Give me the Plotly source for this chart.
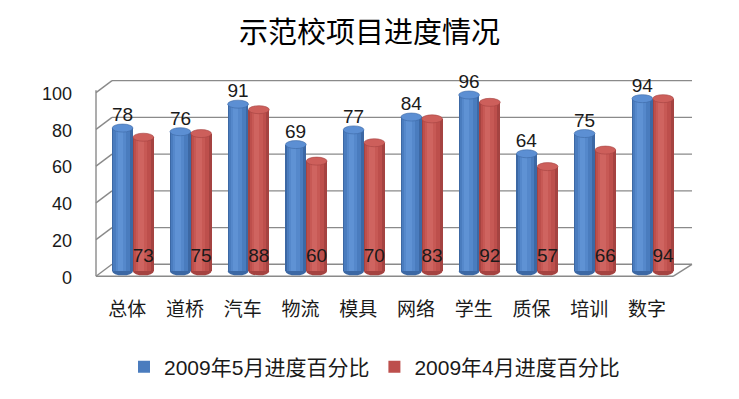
import plotly.graph_objects as go

title_text = "示范校项目进度情况"
categories = ["总体", "道桥", "汽车", "物流", "模具", "网络", "学生", "质保", "培训", "数字"]
may_values = [78, 76, 91, 69, 77, 84, 96, 64, 75, 94]
april_values = [73, 75, 88, 60, 70, 83, 92, 57, 66, 94]
series_names = ["2009年5月进度百分比", "2009年4月进度百分比"]
y_ticks = [0, 20, 40, 60, 80, 100]

FONT = "Liberation Sans, Noto Sans CJK SC, sans-serif"
BW = 0.36
Y_RANGE = [-13.44, 115.05]
PLOT_H = 239
PX_PER_UNIT = PLOT_H / (Y_RANGE[1] - Y_RANGE[0])

idx = list(range(len(categories)))
x_may = [i - BW / 2 for i in idx]
x_apr = [i + BW / 2 for i in idx]

blue_layers = [("#3c68a4", 1.0, 0.0), ("#4a7cbe", 0.80, -0.04), ("#5588cb", 0.52, -0.08), ("#5f92d4", 0.26, -0.11)]
red_layers = [("#a54341", 1.0, 0.0), ("#bd4f4c", 0.80, -0.04), ("#c75955", 0.52, -0.08), ("#cf6460", 0.26, -0.11)]
blue_top = "#5c8fd3"
red_top = "#cd5f5b"

fig = go.Figure()
shapes = []

GRID = "#8a8a8a"
BACK_X0 = 16 / 596
FRONT_X1 = 577 / 596
BACK_DY = 7
FRONT_DY = -5

# back wall gridlines + left wall slants
for v in y_ticks:
    shapes.append(dict(type="line", xref="paper", yref="y", ysizemode="pixel", yanchor=v,
                       x0=BACK_X0, x1=1, y0=BACK_DY, y1=BACK_DY,
                       line=dict(color=GRID, width=1.4), layer="below"))
    shapes.append(dict(type="line", xref="paper", yref="y", ysizemode="pixel", yanchor=v,
                       x0=0, x1=BACK_X0, y0=FRONT_DY, y1=BACK_DY,
                       line=dict(color=GRID, width=1.4), layer="below"))
# front left vertical edge
shapes.append(dict(type="line", xref="paper", yref="y", ysizemode="pixel", yanchor=0,
                   x0=0, x1=0, y0=FRONT_DY, y1=FRONT_DY + 100 * PX_PER_UNIT,
                   line=dict(color=GRID, width=1.4), layer="below"))
# floor front edge and right slant
shapes.append(dict(type="line", xref="paper", yref="y", ysizemode="pixel", yanchor=0,
                   x0=0, x1=FRONT_X1, y0=FRONT_DY, y1=FRONT_DY,
                   line=dict(color=GRID, width=1.4), layer="below"))
shapes.append(dict(type="line", xref="paper", yref="y", ysizemode="pixel", yanchor=0,
                   x0=FRONT_X1, x1=1, y0=FRONT_DY, y1=BACK_DY,
                   line=dict(color=GRID, width=1.4), layer="below"))


def add_cylinders(xs, vals, layers, top_col, name):
    for k, (col, wf, off) in enumerate(layers):
        fig.add_trace(go.Bar(
            x=[x + off * BW for x in xs], y=vals, width=BW * wf,
            marker=dict(color=col, line=dict(width=0)),
            name=name, legendgroup=name, showlegend=(k == 1), hoverinfo="skip",
        ))
    for x, v in zip(xs, vals):
        shapes.append(dict(type="circle", xref="x", yref="y", ysizemode="pixel", yanchor=0,
                           x0=x - BW / 2, x1=x + BW / 2, y0=-4, y1=4,
                           fillcolor=layers[0][0], line=dict(width=0), layer="below"))
        shapes.append(dict(type="circle", xref="x", yref="y", ysizemode="pixel", yanchor=v,
                           x0=x - BW / 2, x1=x + BW / 2, y0=-4, y1=4,
                           fillcolor=top_col, line=dict(color=layers[0][0], width=0.6), layer="above"))


add_cylinders(x_may, may_values, blue_layers, blue_top, series_names[0])
add_cylinders(x_apr, april_values, red_layers, red_top, series_names[1])

# value labels: May above the bars, April near the bar base
fig.add_trace(go.Bar(
    x=x_may, y=may_values, width=BW,
    marker=dict(color="rgba(0,0,0,0)", line=dict(width=0)),
    text=[str(v) for v in may_values], textposition="outside", textangle=0,
    constraintext="none", textfont=dict(family=FONT, size=19, color="#1a1a1a"),
    cliponaxis=False, showlegend=False, hoverinfo="skip",
))
fig.add_trace(go.Scatter(
    x=x_apr, y=[0] * len(april_values), mode="markers+text",
    marker=dict(size=6, opacity=0),
    text=[str(v) for v in april_values], textposition="top center",
    textfont=dict(family=FONT, size=19, color="#1a1a1a"),
    cliponaxis=False, showlegend=False, hoverinfo="skip",
))

fig.update_layout(
    width=739, height=399,
    margin=dict(l=96, r=47, t=60, b=100),
    paper_bgcolor="white", plot_bgcolor="rgba(0,0,0,0)",
    barmode="overlay", bargap=0,
    font=dict(family=FONT, size=19, color="#1a1a1a"),
    title=dict(text=title_text, x=0.5, xanchor="center", y=1 - 33 / 399, yanchor="middle",
               font=dict(family="Noto Sans CJK SC, sans-serif", size=29, color="#000")),
    xaxis=dict(range=[-0.64, 9.68], tickvals=[i - 0.1 for i in idx], ticktext=categories,
               showgrid=False, zeroline=False, showline=False, ticks="",
               tickfont=dict(family=FONT, size=19)),
    yaxis=dict(range=Y_RANGE, tickvals=y_ticks, showgrid=False, zeroline=False, showline=False,
               ticks="", ticklabelshift=6, ticklabelstandoff=23,
               tickfont=dict(family=FONT, size=18)),
    legend=dict(orientation="h", x=(124 - 96) / 596, xanchor="left",
                y=(299 - 371) / 239, yanchor="middle", font=dict(family=FONT, size=21),
                traceorder="normal"),
    shapes=shapes,
    showlegend=True,
)

fig.write_html("out.html", config={"displayModeBar": False},
               post_script="document.body.style.margin='0';")
